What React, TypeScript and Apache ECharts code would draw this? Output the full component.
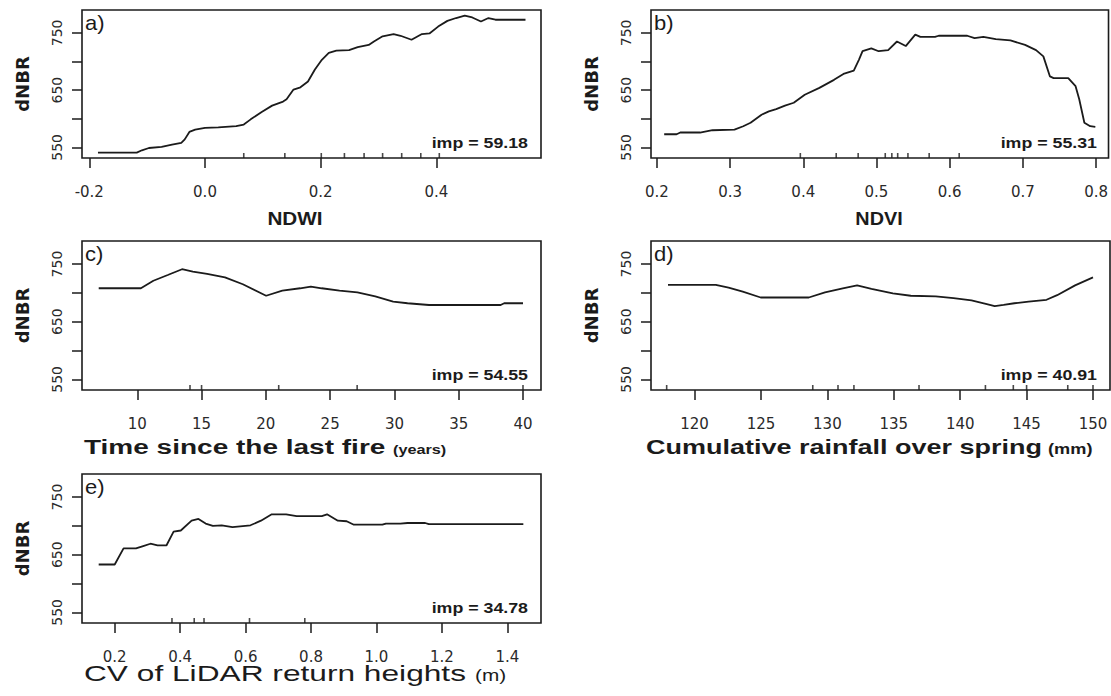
import React, { useEffect, useRef } from "react";
import * as echarts from "echarts";

// ---------- data ----------
// a) NDWI
const ndwiX = [-0.185, -0.118, -0.109, -0.097, -0.075, -0.057, -0.041, -0.035, -0.027, -0.017, 0.0, 0.023, 0.054, 0.067, 0.079, 0.098, 0.116, 0.135, 0.141, 0.153, 0.165, 0.178, 0.19, 0.202, 0.214, 0.227, 0.249, 0.264, 0.283, 0.292, 0.307, 0.326, 0.338, 0.357, 0.375, 0.388, 0.403, 0.419, 0.434, 0.449, 0.462, 0.477, 0.49, 0.502, 0.554];
const ndwiY = [541, 541, 545, 549, 551, 555, 558, 564, 577, 581, 584, 585, 587, 590, 599, 612, 623, 630, 634, 651, 655, 665, 686, 703, 715, 719, 720, 725, 729, 735, 744, 748, 745, 738, 748, 749, 761, 771, 776, 780, 777, 770, 776, 773, 773];
const ndwiRug = [0.067, 0.138, 0.201, 0.241, 0.275, 0.307, 0.34, 0.373, 0.405];
const ndwiTicks = [-0.2, 0.0, 0.2, 0.4];

// b) NDVI
const ndviX = [0.21, 0.227, 0.232, 0.259, 0.276, 0.306, 0.318, 0.328, 0.343, 0.353, 0.363, 0.375, 0.387, 0.402, 0.422, 0.442, 0.456, 0.469, 0.476, 0.481, 0.493, 0.503, 0.516, 0.528, 0.54, 0.553, 0.56, 0.58, 0.585, 0.624, 0.634, 0.646, 0.663, 0.683, 0.703, 0.718, 0.728, 0.737, 0.742, 0.762, 0.772, 0.777, 0.784, 0.792, 0.799];
const ndviY = [573, 573, 576, 576, 580, 581, 587, 593, 607, 613, 617, 623, 628, 642, 654, 668, 679, 684, 703, 718, 723, 718, 720, 735, 727, 747, 743, 743, 745, 745, 741, 743, 739, 737, 729, 720, 709, 674, 671, 671, 657, 634, 593, 587, 586];
const ndviRug = [0.396, 0.445, 0.475, 0.512, 0.521, 0.529, 0.543, 0.572, 0.613];
const ndviTicks = [0.2, 0.3, 0.4, 0.5, 0.6, 0.7, 0.8];

// c) Time since the last fire
const fireX = [7.0, 10.28, 11.25, 12.37, 13.48, 14.32, 15.43, 16.82, 18.21, 20.02, 21.28, 22.67, 23.5, 24.34, 25.73, 27.12, 28.51, 29.9, 31.02, 32.69, 35.19, 38.26, 38.54, 40.0];
const fireY = [708, 708, 721, 731, 741, 737, 733, 727, 715, 695, 704, 708, 711, 708, 704, 701, 694, 685, 682, 679, 679, 679, 682, 682];
const fireRug = [14.1, 15.0, 21.0, 27.1, 40.0];
const fireTicks = [10, 15, 20, 25, 30, 35, 40];

// d) Cumulative rainfall over spring
const rainX = [118.0, 121.6, 122.56, 123.63, 124.98, 128.6, 129.82, 131.16, 132.24, 133.32, 134.93, 136.28, 138.16, 139.5, 140.85, 141.93, 142.6, 143.27, 144.08, 145.15, 146.5, 147.3, 148.65, 150.0];
const rainY = [714, 714, 709, 702, 692, 692, 701, 708, 713, 707, 699, 695, 694, 691, 687, 681, 677, 679, 682, 685, 688, 696, 713, 727];
const rainRug = [117.9, 128.9, 130.8, 132.0, 136.9, 141.9, 144.0, 145.0, 148.1, 150.0];
const rainTicks = [120, 125, 130, 135, 140, 145, 150];

// e) CV of LiDAR return heights
const cvX = [0.151, 0.2, 0.227, 0.265, 0.287, 0.309, 0.331, 0.358, 0.38, 0.402, 0.435, 0.456, 0.478, 0.5, 0.527, 0.56, 0.615, 0.647, 0.68, 0.724, 0.756, 0.833, 0.849, 0.882, 0.909, 0.931, 1.018, 1.029, 1.073, 1.095, 1.149, 1.16, 1.449];
const cvY = [633, 633, 661, 661, 665, 669, 666, 666, 690, 692, 709, 712, 704, 700, 701, 698, 701, 709, 720, 720, 717, 717, 720, 709, 708, 702, 702, 704, 704, 705, 705, 703, 703];
const cvRug = [0.375, 0.443, 0.473, 0.612, 0.781];
const cvTicks = [0.2, 0.4, 0.6, 0.8, 1.0, 1.2, 1.4];

const yTicks = [550, 600, 650, 700, 750];
const yLabelValues = [550, 650, 750];
const panelLetters = ["a)", "b)", "c)", "d)", "e)"];
const impLabels = ["imp = 59.18", "imp = 55.31", "imp = 54.55", "imp = 40.91", "imp = 34.78"];
const xTitles = ["NDWI", "NDVI", "Time since the last fire", "Cumulative rainfall over spring", "CV of LiDAR return heights"];
const xUnits = ["", "", "(years)", "(mm)", "(m)"];
const yTitle = "dNBR";

// ---------- layout / style ----------
const INK = "#1b1b1b";
const SANS = "Liberation Sans";
const TICKFONT = "DejaVu Sans";
const STRETCH = 1.27;
const Y_RANGE = [531.5, 790];

const GRIDS = [
  { left: 82, top: 10, width: 459, height: 148 },
  { left: 651, top: 10, width: 459, height: 148 },
  { left: 82, top: 241, width: 459, height: 149 },
  { left: 651, top: 241, width: 459, height: 149 },
  { left: 82, top: 474, width: 459, height: 149 },
];
const X_RANGES = [
  [-0.2126, 0.5808],
  [0.192, 0.817],
  [5.7, 41.4],
  [116.72, 151.28],
  [0.1, 1.503],
];
const DECIMALS = [1, 1, 0, 0, 1];

// title placement
const TITLE_POS = [
  { x: 295, base: 225, align: "center", size: 18, sx: 1.15, bold: true, ux: 0, usize: 0, usx: 1 },
  { x: 879, base: 225, align: "center", size: 18, sx: 1.1, bold: true, ux: 0, usize: 0, usx: 1 },
  { x: 84, base: 454, align: "left", size: 20, sx: 1.4, bold: true, ux: 393, usize: 13, usx: 1.25 },
  { x: 646, base: 454, align: "left", size: 20, sx: 1.35, bold: true, ux: 1048, usize: 14, usx: 1.3 },
  { x: 84, base: 681, align: "left", size: 22, sx: 1.44, bold: false, ux: 475, usize: 16, usx: 1.3 },
];

const panels = [
  { x: ndwiX, y: ndwiY, rug: ndwiRug, ticks: ndwiTicks },
  { x: ndviX, y: ndviY, rug: ndviRug, ticks: ndviTicks },
  { x: fireX, y: fireY, rug: fireRug, ticks: fireTicks },
  { x: rainX, y: rainY, rug: rainRug, ticks: rainTicks },
  { x: cvX, y: cvY, rug: cvRug, ticks: cvTicks },
];

function buildOption() {
  const grid = GRIDS.map((g) => ({
    ...g,
    show: true,
    borderColor: INK,
    borderWidth: 1.6,
    backgroundColor: "transparent",
    containLabel: false,
  }));

  const xAxis = panels.map((p, i) => ({
    type: "value",
    gridIndex: i,
    position: "bottom",
    min: X_RANGES[i][0],
    max: X_RANGES[i][1],
    axisLine: { show: false, onZero: false },
    splitLine: { show: false },
    axisTick: {
      show: true,
      length: 10,
      customValues: p.ticks,
      lineStyle: { color: INK, width: 1.5 },
    },
    axisLabel: {
      customValues: p.ticks,
      formatter: (v: number) => v.toFixed(DECIMALS[i]),
      margin: 26,
      color: "#2a2a2a",
      fontFamily: TICKFONT,
      fontSize: 15,
    },
  }));

  const yAxis = panels.map((_p, i) => ({
    type: "value",
    gridIndex: i,
    position: "left",
    min: Y_RANGE[0],
    max: Y_RANGE[1],
    axisLine: { show: false, onZero: false },
    splitLine: { show: false },
    axisTick: {
      show: true,
      length: 10,
      customValues: yTicks,
      lineStyle: { color: INK, width: 1.5 },
    },
    axisLabel: {
      customValues: yLabelValues,
      rotate: 90,
      margin: 18,
      color: "#2a2a2a",
      fontFamily: TICKFONT,
      fontSize: 14,
    },
    name: yTitle,
    nameLocation: "middle",
    nameGap: 51,
    nameTextStyle: {
      color: INK,
      fontFamily: TICKFONT,
      fontWeight: "bold",
      fontSize: 18,
    },
  }));

  const series: any[] = [];
  panels.forEach((p, i) => {
    series.push({
      type: "line",
      xAxisIndex: i,
      yAxisIndex: i,
      data: p.x.map((v, k) => [v, p.y[k]]),
      showSymbol: false,
      symbol: "none",
      silent: true,
      lineStyle: { color: INK, width: 1.8 },
    });
    series.push({
      type: "scatter",
      xAxisIndex: i,
      yAxisIndex: i,
      data: p.rug.map((v) => [v, Y_RANGE[0]]),
      symbol: "rect",
      symbolSize: [1.6, 5],
      symbolOffset: [0, -2.5],
      silent: true,
      itemStyle: { color: INK },
    });
  });

  const graphic: any[] = [];
  GRIDS.forEach((g, i) => {
    graphic.push({
      type: "text",
      x: g.left + 3,
      y: g.top + 3,
      scaleX: 1.1,
      silent: true,
      style: {
        text: panelLetters[i],
        fill: INK,
        fontFamily: SANS,
        fontSize: 20,
        align: "left",
        verticalAlign: "top",
      },
    });
    graphic.push({
      type: "text",
      x: g.left + g.width - 13,
      y: g.top + g.height - 15,
      scaleX: STRETCH,
      silent: true,
      style: {
        text: impLabels[i],
        fill: INK,
        fontFamily: SANS,
        fontWeight: "bold",
        fontSize: 14,
        align: "right",
        verticalAlign: "middle",
      },
    });
    const t = TITLE_POS[i];
    graphic.push({
      type: "text",
      x: t.x,
      y: t.base - 0.35 * t.size,
      scaleX: t.sx,
      silent: true,
      style: {
        text: xTitles[i],
        fill: INK,
        fontFamily: SANS,
        fontWeight: t.bold ? "bold" : "normal",
        fontSize: t.size,
        align: t.align,
        verticalAlign: "middle",
      },
    });
    if (xUnits[i]) {
      graphic.push({
        type: "text",
        x: t.ux,
        y: t.base - 0.35 * t.usize,
        scaleX: t.usx,
        silent: true,
        style: {
          text: xUnits[i],
          fill: INK,
          fontFamily: SANS,
          fontWeight: t.bold ? "bold" : "normal",
          fontSize: t.usize,
          align: "left",
          verticalAlign: "middle",
        },
      });
    }
  });

  return {
    animation: false,
    backgroundColor: "#ffffff",
    grid,
    xAxis,
    yAxis,
    series,
    graphic,
  };
}

export default function App() {
  const ref = useRef<HTMLDivElement>(null);
  useEffect(() => {
    if (!ref.current) return;
    const chart = echarts.init(ref.current, undefined, { renderer: "svg" });
    chart.setOption(buildOption() as any);
    return () => chart.dispose();
  }, []);
  return (
    <div
      ref={ref}
      style={{ position: "absolute", left: 0, top: 0, width: 1111, height: 696, background: "#fff" }}
    />
  );
}
